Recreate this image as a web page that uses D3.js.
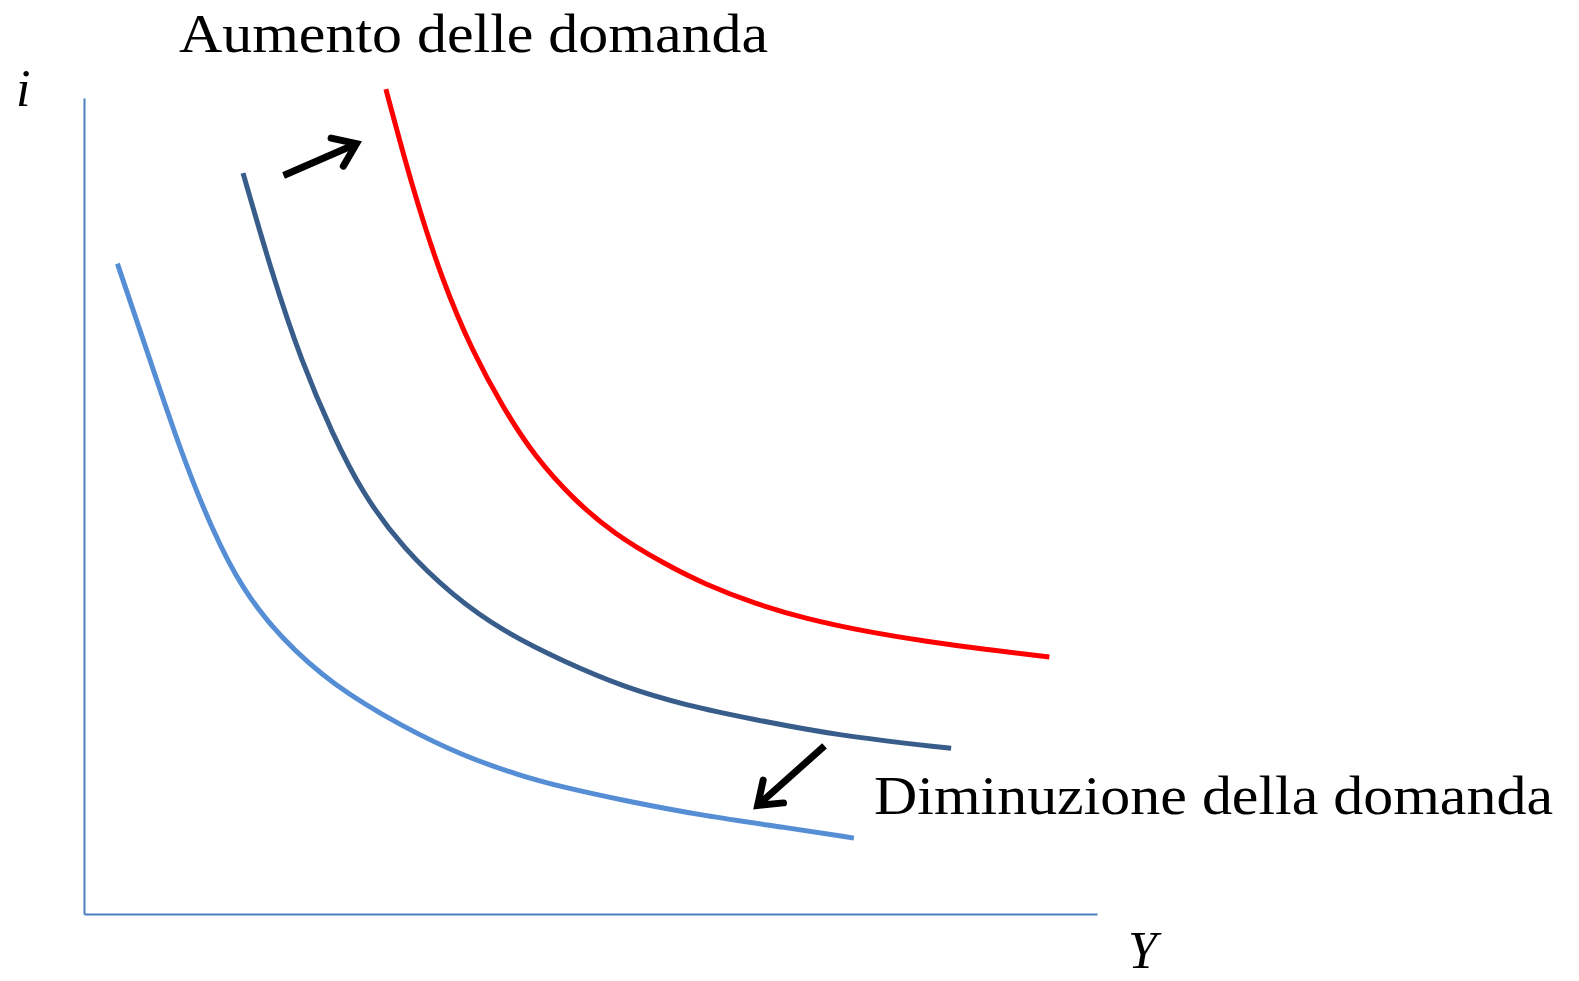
<!DOCTYPE html>
<html>
<head>
<meta charset="utf-8">
<script src="https://cdn.jsdelivr.net/npm/d3@7"></script>
<style>
  body { margin: 0; background: #fff; }
  text { font-family: "Liberation Serif", "DejaVu Serif", serif; fill: #000; }
</style>
</head>
<body>
<div id="chart"></div>
<script>
// curve points in chart units (Y along x axis 0-100, i along y axis 0-100)
const curveLow = [
  [3.3, 79.7], [6.6, 67.6], [9.6, 56.5], [12.6, 47.2], [15.6, 39.8], [19.5, 33.7],
  [24.5, 28.1], [31.5, 22.9], [37.4, 19.4], [42.9, 17.0], [47.4, 15.5], [53.3, 13.9],
  [61.3, 12.0], [69.3, 10.6], [76.0, 9.3]
];
const curveMid = [
  [15.7, 90.8], [18.5, 78.7], [21.5, 67.6], [24.5, 58.9], [27.5, 51.5], [31.5, 44.8],
  [36.4, 39.0], [41.4, 34.6], [47.4, 30.9], [53.3, 27.8], [59.3, 25.6], [66.3, 23.8],
  [74.2, 21.9], [85.6, 20.3]
];
const curveHigh = [
  [29.8, 101.1], [32.5, 88.6], [35.4, 77.5], [38.4, 68.8], [41.4, 62.0], [44.4, 56.2],
  [48.4, 50.7], [52.3, 46.6], [57.3, 42.9], [61.3, 40.4], [66.3, 38.0], [71.2, 36.2],
  [77.2, 34.6], [83.2, 33.4], [89.1, 32.4], [95.3, 31.5]
];
const arrowUp = [[19.7, 90.5], [26.9, 94.4]];
const arrowDown = [[73.1, 20.6], [66.5, 13.3]];
const labelUp = "Aumento delle domanda";
const labelDown = "Diminuzione della domanda";

const W = 1579, H = 981;
const svg = d3.select("#chart").append("svg")
  .attr("width", W)
  .attr("height", H);

const x = d3.scaleLinear().domain([0, 100]).range([84, 1097]);
const y = d3.scaleLinear().domain([0, 100]).range([914, 98]);

// axes (plain lines, no ticks)
svg.append("g")
  .attr("transform", `translate(0,${y(0)})`)
  .call(d3.axisBottom(x).ticks(0).tickSize(0).tickSizeOuter(0))
  .call(g => g.select(".domain").attr("stroke", "#4A7EBB").attr("stroke-width", 2));

svg.append("g")
  .attr("transform", `translate(${x(0)},0)`)
  .call(d3.axisLeft(y).ticks(0).tickSize(0).tickSizeOuter(0))
  .call(g => g.select(".domain").attr("stroke", "#4A7EBB").attr("stroke-width", 2));

const line = d3.line()
  .x(d => x(d[0]))
  .y(d => y(d[1]))
  .curve(d3.curveBasis);

const curves = [
  { pts: curveLow, color: "#558ED5" },
  { pts: curveMid, color: "#385D8A" },
  { pts: curveHigh, color: "#FF0000" }
];

svg.selectAll("path.curve")
  .data(curves)
  .enter()
  .append("path")
  .attr("class", "curve")
  .attr("d", d => line(d.pts))
  .attr("fill", "none")
  .attr("stroke", d => d.color)
  .attr("stroke-width", 5);

// arrows
function drawArrow(a) {
  const x1 = x(a[0][0]), y1 = y(a[0][1]), x2 = x(a[1][0]), y2 = y(a[1][1]);
  const ang = Math.atan2(y2 - y1, x2 - x1);
  const len = 26, spread = Math.PI / 5;
  const g = svg.append("g")
    .attr("stroke", "#000")
    .attr("stroke-width", 7)
    .attr("fill", "none")
    .attr("stroke-linecap", "round")
    .attr("stroke-linejoin", "miter");
  g.append("line").attr("x1", x1).attr("y1", y1).attr("x2", x2).attr("y2", y2)
    .attr("stroke-linecap", "butt");
  g.append("path").attr("d",
    `M${x2 - len * Math.cos(ang - spread)},${y2 - len * Math.sin(ang - spread)}` +
    `L${x2},${y2}` +
    `L${x2 - len * Math.cos(ang + spread)},${y2 - len * Math.sin(ang + spread)}`);
}
drawArrow(arrowUp);
drawArrow(arrowDown);

// labels
svg.append("text")
  .attr("x", 179).attr("y", 52)
  .attr("textLength", 589).attr("lengthAdjust", "spacingAndGlyphs")
  .style("font-size", "54px")
  .text(labelUp);

svg.append("text")
  .attr("x", 874).attr("y", 814)
  .attr("textLength", 679).attr("lengthAdjust", "spacingAndGlyphs")
  .style("font-size", "54px")
  .text(labelDown);

svg.append("text")
  .attr("x", 16).attr("y", 106)
  .style("font-size", "52px")
  .style("font-style", "italic")
  .text("i");

svg.append("text")
  .attr("x", 1128).attr("y", 968)
  .style("font-size", "52px")
  .style("font-style", "italic")
  .text("Y");
</script>
</body>
</html>
